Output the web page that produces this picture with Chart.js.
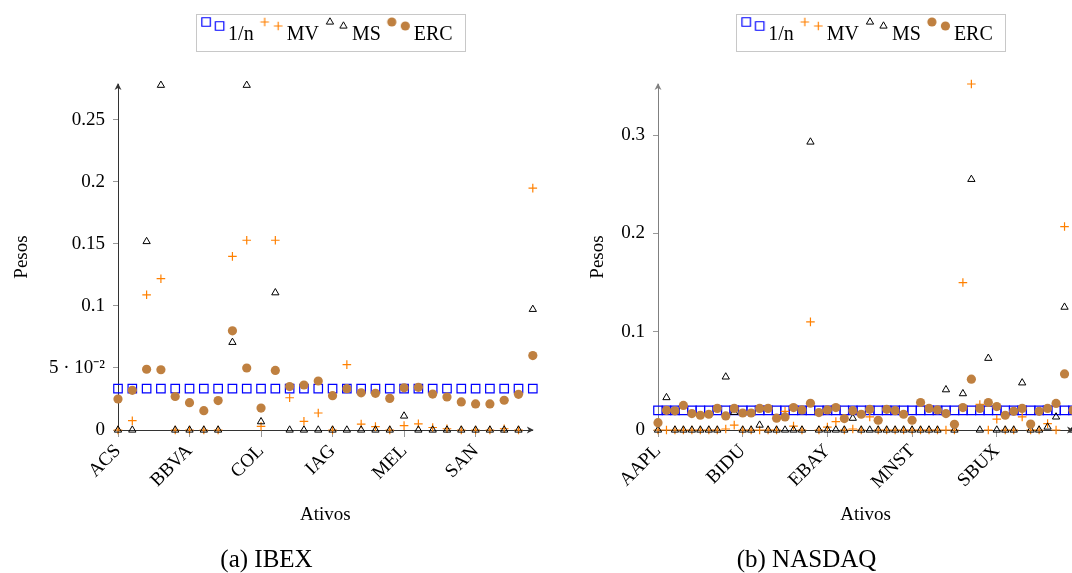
<!DOCTYPE html>
<html>
<head>
<meta charset="utf-8">
<script src="https://cdn.jsdelivr.net/npm/chart.js@4.4.1/dist/chart.umd.min.js"></script>
<style>
  html, body { margin: 0; padding: 0; background: #fff; overflow: hidden; }
  body { width: 1072px; height: 573px; position: relative; }
  #ibex { position: absolute; left: 0; top: 0; }
  #nasdaq { position: absolute; left: 540px; top: 0; }
</style>
</head>
<body>
<canvas id="ibex" width="540" height="573"></canvas>
<canvas id="nasdaq" width="541" height="573"></canvas>
<script>
// (a) IBEX - 30 ativos, rótulo a cada 5
const ibexTicks = ['ACS', 'BBVA', 'COL', 'IAG', 'MEL', 'SAN'];
const ibexYTicks = ['0', '5 · 10⁻²', '0.1', '0.15', '0.2', '0.25'];
const ibexUniform = [
  0.0333, 0.0333, 0.0333, 0.0333, 0.0333, 0.0333, 0.0333, 0.0333, 0.0333, 0.0333,
  0.0333, 0.0333, 0.0333, 0.0333, 0.0333, 0.0333, 0.0333, 0.0333, 0.0333, 0.0333,
  0.0333, 0.0333, 0.0333, 0.0333, 0.0333, 0.0333, 0.0333, 0.0333, 0.0333, 0.0333
];
const ibexMV = [
  0, 0.0075, 0.109, 0.122, 0, 0, 0, 0, 0.140, 0.153,
  0.003, 0.153, 0.026, 0.007, 0.0137, 0, 0.0527, 0.0048, 0.0027, 0,
  0.0035, 0.005, 0.002, 0.001, 0, 0, 0, 0.001, 0, 0.195
];
const ibexMS = [
  0, 0, 0.152, 0.278, 0, 0, 0, 0, 0.0707, 0.278,
  0.0067, 0.1107, 0, 0, 0, 0, 0, 0, 0, 0,
  0.0113, 0, 0, 0, 0, 0, 0, 0, 0, 0.0973
];
const ibexERC = [
  0.025, 0.032, 0.049, 0.0486, 0.027, 0.022, 0.0156, 0.0237, 0.080, 0.050,
  0.0177, 0.048, 0.035, 0.0363, 0.0395, 0.0277, 0.0333, 0.030, 0.0296, 0.0255,
  0.034, 0.0344, 0.029, 0.0266, 0.0226, 0.021, 0.021, 0.024, 0.0288, 0.060
];

// (b) NASDAQ - 50 ativos, rótulo a cada 10
const nasdaqTicks = ['AAPL', 'BIDU', 'EBAY', 'MNST', 'SBUX'];
const nasdaqYTicks = ['0', '0.1', '0.2', '0.3'];
const nasdaqUniform = [
  0.02, 0.02, 0.02, 0.02, 0.02, 0.02, 0.02, 0.02, 0.02, 0.02,
  0.02, 0.02, 0.02, 0.02, 0.02, 0.02, 0.02, 0.02, 0.02, 0.02,
  0.02, 0.02, 0.02, 0.02, 0.02, 0.02, 0.02, 0.02, 0.02, 0.02,
  0.02, 0.02, 0.02, 0.02, 0.02, 0.02, 0.02, 0.02, 0.02, 0.02,
  0.02, 0.02, 0.02, 0.02, 0.02, 0.02, 0.02, 0.02, 0.02, 0.02
];
const nasdaqMV = [
  0, 0, 0, 0, 0, 0, 0, 0, 0.001, 0.005,
  0, 0, 0, 0, 0, 0.019, 0.004, 0, 0.110, 0,
  0.003, 0.0085, 0, 0.001, 0, 0.0133, 0, 0, 0, 0,
  0, 0, 0, 0, 0, 0, 0.150, 0.352, 0.026, 0,
  0.011, 0, 0, 0.0133, 0, 0, 0.0065, 0, 0.207, 0
];
const nasdaqMS = [
  0, 0.033, 0, 0, 0, 0, 0, 0, 0.054, 0.018,
  0, 0, 0.005, 0, 0, 0, 0, 0, 0.293, 0,
  0, 0, 0, 0.012, 0, 0, 0, 0, 0, 0,
  0, 0, 0, 0, 0.041, 0, 0.037, 0.255, 0, 0.073,
  0, 0, 0, 0.048, 0, 0, 0.003, 0.0133, 0.125, 0
];
const nasdaqERC = [
  0.0075, 0.020, 0.0195, 0.025, 0.0167, 0.015, 0.016, 0.022, 0.0143, 0.022,
  0.0173, 0.0173, 0.022, 0.022, 0.012, 0.0133, 0.0228, 0.0204, 0.0272, 0.0177,
  0.0204, 0.0228, 0.0116, 0.0197, 0.016, 0.021, 0.0099, 0.021, 0.0197, 0.016,
  0.0099, 0.028, 0.022, 0.0204, 0.0167, 0.0058, 0.0228, 0.0517, 0.022, 0.028,
  0.0238, 0.015, 0.019, 0.022, 0.006, 0.019, 0.022, 0.027, 0.057, 0.020
];

const serif = 'Liberation Serif';
const blue = 'rgb(0, 0, 255)';
const orange = 'rgb(255, 128, 0)';
const brown = 'rgb(191, 128, 64)';
const clear = 'rgba(0, 0, 0, 0)';

// estilos dos marcadores: [pointStyle, raio, preenchimento, contorno, espessura]
const markers = {
  '1/n': ['rect', 6, clear, blue, 1.2],
  'MV': ['cross', 4.3, orange, orange, 1.2],
  'MS': ['triangle', 4.2, clear, '#000', 1],
  'ERC': ['circle', 4.6, brown, brown, 0]
};

// imagem da legenda com dois marcadores (como no pgfplots)
function legendImage(label) {
  const [style, radius, fill, stroke, lw] = markers[label];
  const c = document.createElement('canvas');
  c.width = 40;
  c.height = 40;
  const g = c.getContext('2d');
  g.fillStyle = fill;
  g.strokeStyle = stroke;
  g.lineWidth = lw;
  const opts = { pointStyle: style, radius: radius, rotation: 0, borderWidth: lw };
  Chart.helpers.drawPoint(g, opts, 18, 7);
  Chart.helpers.drawPoint(g, opts, 31.5, 11);
  return c;
}

// setas dos eixos e moldura da legenda
const axisDecor = {
  id: 'axisDecor',
  afterDraw(chart, args, opts) {
    const { ctx, chartArea: a } = chart;
    ctx.save();
    ctx.fillStyle = opts.yColor;
    ctx.beginPath();
    ctx.moveTo(a.left, a.top - 1);
    ctx.lineTo(a.left - 3.5, a.top + 6);
    ctx.lineTo(a.left, a.top + 4);
    ctx.lineTo(a.left + 3.5, a.top + 6);
    ctx.closePath();
    ctx.fill();
    ctx.fillStyle = '#333';
    ctx.beginPath();
    ctx.moveTo(a.right + 1, a.bottom);
    ctx.lineTo(a.right - 6, a.bottom - 3.5);
    ctx.lineTo(a.right - 4, a.bottom);
    ctx.lineTo(a.right - 6, a.bottom + 3.5);
    ctx.closePath();
    ctx.fill();

    const hb = chart.legend.legendHitBoxes;
    if (hb && hb.length) {
      const last = hb[hb.length - 1];
      const x0 = hb[0].left - 2;
      const x1 = last.left + last.width + 12;
      const yc = hb[0].top + hb[0].height / 2;
      ctx.strokeStyle = '#c8c8c8';
      ctx.lineWidth = 1;
      ctx.strokeRect(Math.round(x0) + 0.5, Math.round(yc - 21) + 0.5, Math.round(x1 - x0), 37);
    }
    ctx.restore();
  }
};

function buildDatasets(uniform, mv, ms, erc) {
  const xy = arr => arr.map((v, i) => ({ x: i, y: v }));
  const series = [['1/n', uniform, 4], ['MV', mv, 3], ['MS', ms, 2], ['ERC', erc, 1]];
  return series.map(([label, values, order]) => {
    const [style, radius, fill, stroke, lw] = markers[label];
    return {
      label: label,
      data: xy(values),
      pointStyle: style,
      pointRadius: radius,
      pointHoverRadius: radius,
      pointBackgroundColor: fill,
      pointBorderColor: stroke,
      pointBorderWidth: lw,
      order: order,
      clip: false
    };
  });
}

function makeChart(id, o) {
  const ctx = document.getElementById(id).getContext('2d');
  return new Chart(ctx, {
    type: 'scatter',
    data: { datasets: buildDatasets(o.uniform, o.mv, o.ms, o.erc) },
    options: {
      responsive: false,
      animation: false,
      layout: { padding: { left: 0, right: o.padRight, top: 10, bottom: 0 } },
      plugins: {
        legend: {
          position: 'top',
          fullSize: false,
          title: { display: true, text: '', font: { size: 12, lineHeight: 1 }, padding: 0 },
          labels: {
            usePointStyle: true,
            pointStyleWidth: 20,
            boxHeight: 10,
            padding: 3,
            color: '#000',
            font: { family: serif, size: 20 },
            sort: (a, b) => a.datasetIndex - b.datasetIndex,
            generateLabels: chart => Chart.defaults.plugins.legend.labels.generateLabels(chart)
              .map(item => Object.assign(item, { pointStyle: legendImage(item.text) }))
          }
        },
        title: {
          display: true,
          position: 'bottom',
          text: o.caption,
          color: '#000',
          font: { family: serif, size: 25, weight: 'normal', lineHeight: 1 },
          padding: { top: 5, bottom: 0 }
        },
        tooltip: { enabled: false },
        axisDecor: { yColor: o.yColor }
      },
      scales: {
        x: {
          type: 'linear',
          min: 0,
          max: o.xMax,
          afterFit: s => { s.height = 113; },
          border: { display: true, color: '#333', width: 1 },
          grid: { display: true, drawOnChartArea: false, drawTicks: true, tickLength: 7, color: '#999' },
          ticks: {
            stepSize: o.xStep,
            includeBounds: false,
            autoSkip: false,
            maxRotation: 45,
            minRotation: 45,
            padding: 3,
            color: '#000',
            font: { family: serif, size: 19 },
            callback: v => o.xLabels[Math.round(v / o.xStep)]
          },
          title: {
            display: true,
            text: 'Ativos',
            color: '#000',
            font: { family: serif, size: 19 },
            padding: { top: 0, bottom: 17 }
          }
        },
        gap: {
          type: 'linear',
          position: 'top',
          display: true,
          afterFit: s => { s.height = 29; },
          border: { display: false },
          grid: { display: false },
          ticks: { display: false }
        },
        y: {
          type: 'linear',
          min: 0,
          max: o.yMax,
          afterFit: s => { s.width = 118; },
          border: { display: true, color: o.yColor, width: 1 },
          grid: { display: true, drawOnChartArea: false, drawTicks: true, tickLength: 5, color: '#999' },
          ticks: {
            stepSize: o.yStep,
            includeBounds: false,
            padding: 8,
            color: '#000',
            font: { family: serif, size: 19 },
            callback: v => o.yLabels[Math.round(v / o.yStep)]
          },
          title: {
            display: true,
            text: 'Pesos',
            color: '#000',
            font: { family: serif, size: 19 },
            padding: { top: o.yTitlePad, bottom: 0 }
          }
        }
      }
    },
    plugins: [axisDecor]
  });
}

const ibexChart = makeChart('ibex', {
  uniform: ibexUniform, mv: ibexMV, ms: ibexMS, erc: ibexERC,
  xLabels: ibexTicks, xStep: 5, xMax: 29,
  yLabels: ibexYTicks, yStep: 0.05, yMax: 0.279,
  padRight: 7, yTitlePad: 10.6, yColor: '#333',
  caption: '(a) IBEX'
});

const nasdaqChart = makeChart('nasdaq', {
  uniform: nasdaqUniform, mv: nasdaqMV, ms: nasdaqMS, erc: nasdaqERC,
  xLabels: nasdaqTicks, xStep: 10, xMax: 49,
  yLabels: nasdaqYTicks, yStep: 0.1, yMax: 0.352,
  padRight: 8, yTitlePad: 46.6, yColor: '#808080',
  caption: '(b) NASDAQ'
});
</script>
</body>
</html>
